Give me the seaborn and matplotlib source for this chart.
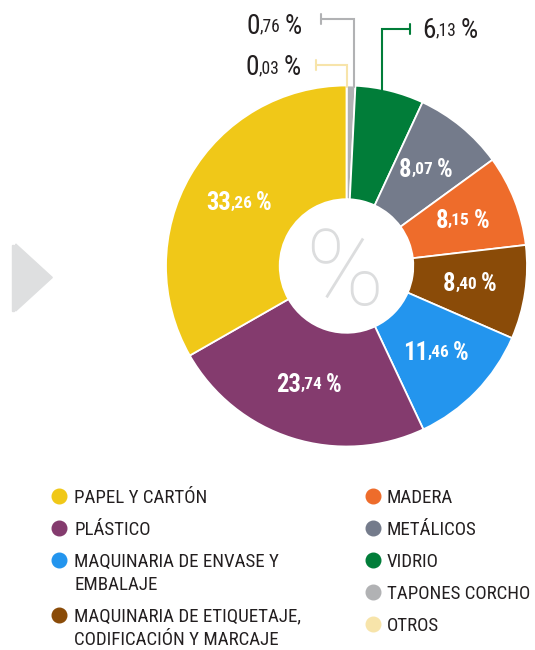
import matplotlib
matplotlib.use("Agg")
import matplotlib.pyplot as plt
import seaborn as sns
import numpy as np
from matplotlib import font_manager
from matplotlib.font_manager import FontProperties
from matplotlib.textpath import TextPath
from matplotlib.lines import Line2D
from matplotlib.patches import Polygon, Rectangle
from matplotlib.offsetbox import TextArea, HPacker, AnnotationBbox

# data, clockwise from 12 o'clock
categories = ["OTROS", "TAPONES CORCHO", "VIDRIO", "METÁLICOS", "MADERA",
              "MAQUINARIA DE ETIQUETAJE,\nCODIFICACIÓN Y MARCAJE",
              "MAQUINARIA DE ENVASE Y\nEMBALAJE", "PLÁSTICO", "PAPEL Y CARTÓN"]
shares = [0.03, 0.76, 6.13, 8.07, 8.15, 8.40, 11.46, 23.74, 33.26]
colors = ["#F7E4AA", "#B1B2B4", "#017D39", "#747B8B", "#EE6C2B",
          "#8A4B08", "#2395EE", "#843B6E", "#F0C818"]
legend_left = ["PAPEL Y CARTÓN", "PLÁSTICO", "MAQUINARIA DE ENVASE Y\nEMBALAJE",
               "MAQUINARIA DE ETIQUETAJE,\nCODIFICACIÓN Y MARCAJE"]
legend_right = ["MADERA", "METÁLICOS", "VIDRIO", "TAPONES CORCHO", "OTROS"]
outside = ["OTROS", "TAPONES CORCHO", "VIDRIO"]

sns.set_theme(style="white")

# pick a condensed family that has a bold face
weights = {}
for f in font_manager.fontManager.ttflist:
    w = font_manager.weight_dict.get(f.weight, f.weight)
    weights.setdefault(f.name, set()).add(int(w))
fam_name = "Roboto"
for n in ["Roboto Condensed", "Nimbus Sans Narrow", "Archivo Narrow",
          "Fira Sans Condensed", "Barlow Semi Condensed"]:
    if n in weights and max(weights[n]) >= 600 and min(weights[n]) <= 500:
        fam_name = n
        break
fam = [fam_name, "DejaVu Sans"]
plt.rcParams["font.family"] = fam

W, H = 535, 650
fig = plt.figure(figsize=(W / 100, H / 100), dpi=100)
fig.patch.set_facecolor("white")
renderer = fig.canvas.get_renderer()


def glyph(s, weight="normal", family=None):
    fp = FontProperties(family=family or fam, weight=weight)
    ext = TextPath((0, 0), s, size=10, prop=fp).get_extents()
    return ext.width / 10, ext.height / 10


def pt_for_height(s, px, weight="normal", family=None):
    return px / glyph(s, weight, family)[1] * 0.72


# donut: centre (346.5, 266) px, radius 180.5 px
cx, cy, R = 346.5, 266, 180.5
ax = fig.add_axes([(cx - R) / W, (H - cy - R) / H, 2 * R / W, 2 * R / H])
wedges, _ = ax.pie(shares, colors=colors, startangle=90, counterclock=False,
                   wedgeprops=dict(width=0.63, edgecolor="white", linewidth=1.3))
ax.set_xlim(-1, 1)
ax.set_ylim(-1, 1)
ax.axis("off")

# big light % in the hole
pct_fam = ["Roboto", "DejaVu Sans"]
pct_size = pt_for_height("%", 77, "light", pct_fam)
ax.text(-0.01, -(77 / 2) / R, "%", ha="center", va="baseline", fontsize=pct_size,
        color="#DCDDDE", fontweight="light", family=pct_fam)


def pct_box(v, big, small, gap, color, weight):
    a, b = f"{v:.2f}".split(".")
    props = dict(color=color, fontweight=weight, family=fam)
    num = HPacker(children=[TextArea(a, textprops=dict(fontsize=big, **props)),
                            TextArea("," + b, textprops=dict(fontsize=small, **props))],
                  align="center", pad=0, sep=0)
    return HPacker(children=[num, TextArea("%", textprops=dict(fontsize=big, **props))],
                   align="center", pad=0, sep=gap)


# labels inside the ring
in_big = pt_for_height("33", 18, "bold")
for w, name, v in zip(wedges, categories, shares):
    if name in outside:
        continue
    mid = np.deg2rad((w.theta1 + w.theta2) / 2)
    r = 0.69
    ab = AnnotationBbox(pct_box(v, in_big, in_big * 0.7, 2.5, "white", "bold"),
                        (r * np.cos(mid), r * np.sin(mid)), frameon=False,
                        box_alignment=(0.5, 0.5), pad=0)
    ax.add_artist(ab)

# labels outside with leader lines (x0, y_top, x_end, text_x, text_y, align)
out_big = pt_for_height("0", 20)
leaders = {
    "OTROS": (0.001, 1.114, -0.169, -0.252, 1.097, 1),
    "TAPONES CORCHO": (0.042, 1.368, -0.143, -0.247, 1.327, 1),
    "VIDRIO": (0.195, 1.313, 0.352, 0.418, 1.307, 0),
}
for name, v, c in zip(categories, shares, colors):
    if name not in leaders:
        continue
    x0, yt, xe, tx, ty, al = leaders[name]
    y0 = np.sqrt(1 - x0 ** 2) - 0.01
    ax.plot([x0, x0, xe], [y0, yt, yt], color=c, lw=1.5, clip_on=False,
            solid_joinstyle="miter")
    ax.plot([xe, xe], [yt - 0.03, yt + 0.03], color=c, lw=1.5, clip_on=False)
    ab = AnnotationBbox(pct_box(v, out_big, out_big * 0.64, 3, "#231F20", "normal"),
                        (tx, ty), frameon=False, box_alignment=(al, 0.5),
                        pad=0, annotation_clip=False)
    ax.add_artist(ab)


# grey arrow at left
def fx(x):
    return x / W


def fy(y):
    return 1 - y / H


fig.patches.append(Rectangle((fx(11.7), fy(311)), fx(2.6), 66 / H,
                             transform=fig.transFigure, color="#DEDFE0"))
fig.patches.append(Polygon([(fx(15.7), fy(244)), (fx(15.7), fy(311)),
                            (fx(52.3), fy(277.5))], closed=True,
                           transform=fig.transFigure, color="#DEDFE0"))

# legend, two columns: marker x, text x
leg_size = min(203 / glyph("MAQUINARIA DE ENVASE Y")[0] * 0.72,
               pt_for_height("E", 14))
fp = FontProperties(family=fam, size=leg_size)
_, lp_h, lp_d = renderer.get_text_width_height_descent("lp", fp, ismath=False)
cap = glyph("E")[1] * leg_size / 0.72
spacing = (23 - lp_d) / (lp_h - lp_d)
col = dict(zip(categories, colors))
for names, mx, tx in [(legend_left, 59.3, 74), (legend_right, 373, 387)]:
    y = 496
    for n in names:
        fig.add_artist(Line2D([fx(mx)], [fy(y)], marker="o", linestyle="",
                              markersize=10.5, markerfacecolor=col[n],
                              markeredgecolor=col[n], transform=fig.transFigure))
        top = y + cap / 2 - (lp_h - lp_d)
        fig.text(fx(tx), fy(top), n, va="top", ha="left", fontsize=leg_size,
                 color="#231F20", linespacing=spacing)
        y += 32 + 23 * n.count("\n")

fig.savefig("out.png", dpi=100, facecolor="white")
